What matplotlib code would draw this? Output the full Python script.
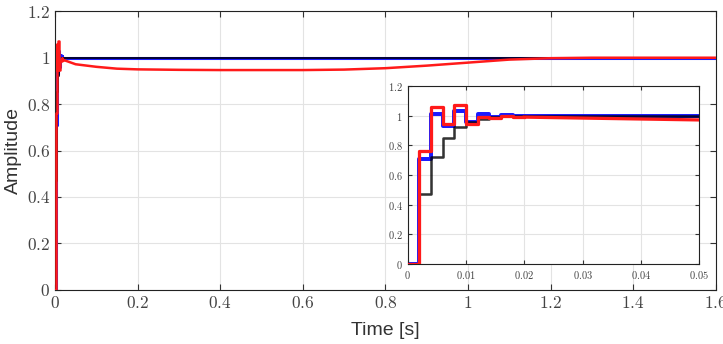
import numpy as np
import matplotlib
matplotlib.use('Agg')
import matplotlib.pyplot as plt
from matplotlib.ticker import FuncFormatter

plt.rcParams['mathtext.fontset'] = 'cm'
plt.rcParams['font.family'] = ['Liberation Sans', 'DejaVu Sans']

# sampled step responses (sample time 2 ms)
t_step = [0.0, 0.002, 0.004, 0.006, 0.008, 0.010, 0.012, 0.014, 0.016, 0.018, 0.020]
y_black = [0.0, 0.47, 0.72, 0.85, 0.92, 0.96, 0.98, 0.99, 1.0, 1.0, 1.0]
y_blue = [0.0, 0.71, 1.01, 0.93, 1.03, 0.96, 1.01, 0.99, 1.005, 1.0, 1.0]
y_red = [0.0, 0.76, 1.06, 0.945, 1.07, 0.945, 0.99, 0.985, 1.0, 0.99, 0.99]

# slow tail of each response
t_tail = [0.02, 0.05, 0.1, 0.15, 0.2, 0.3, 0.4, 0.5, 0.6, 0.7, 0.8, 0.9, 1.0, 1.1, 1.2, 1.3, 1.6]
tail_black = [1.0] * len(t_tail)
tail_blue = [1.0] * len(t_tail)
tail_red = [0.99, 0.971, 0.96, 0.952, 0.949, 0.947, 0.946, 0.946, 0.946, 0.948, 0.954,
            0.965, 0.978, 0.991, 0.997, 0.999, 0.999]

main_xticks = [0, 0.2, 0.4, 0.6, 0.8, 1, 1.2, 1.4, 1.6]
inset_xticks = [0, 0.01, 0.02, 0.03, 0.04, 0.05]
yticks = [0, 0.2, 0.4, 0.6, 0.8, 1, 1.2]

# drawing order: blue under black, red on top
series = [(y_blue, tail_blue, '#1a1aff', 2.2, 2, 1.0),
          (y_black, tail_black, '#000000', 1.4, 3, 0.8),
          (y_red, tail_red, '#ff1a1a', 1.8, 4, 1.0)]

fmt = FuncFormatter(lambda v, p: '$%g$' % round(v, 4))


def draw(ax, scale=1.0):
    for steps, tail, c, lw, z, a in series:
        ax.step(t_step, steps, where='post', color=c, lw=lw * scale, zorder=z, alpha=a)
        ax.plot(t_tail, tail, color=c, lw=lw * scale, zorder=z, alpha=a)
    ax.grid(True, color='#e3e3e3', lw=0.8)
    ax.set_axisbelow(True)
    ax.tick_params(direction='in', top=True, right=True, color='#333333')
    ax.xaxis.set_major_formatter(fmt)
    ax.yaxis.set_major_formatter(fmt)
    for s in ax.spines.values():
        s.set_color('#222222')


fig = plt.figure(figsize=(7.23, 3.44), dpi=100)
ax = fig.add_axes([0.076, 0.157, 0.914, 0.811])
draw(ax)
ax.set_xlim(0, 1.6)
ax.set_ylim(0, 1.2)
ax.set_xticks(main_xticks)
ax.set_yticks(yticks)
ax.tick_params(labelsize=12.5, length=4, colors='#333333', labelcolor='#444444')
ax.set_xlabel('Time [s]', fontsize=14, color='#333333', labelpad=8)
ax.set_ylabel('Amplitude', fontsize=14, color='#333333', labelpad=3)

axin = fig.add_axes([0.564, 0.233, 0.403, 0.517])
draw(axin, scale=1.3)
axin.set_xlim(0, 0.05)
axin.set_ylim(0, 1.2)
axin.set_xticks(inset_xticks)
axin.set_yticks(yticks)
axin.tick_params(labelsize=7.5, length=3, colors='#333333', labelcolor='#444444')

fig.savefig('out.png', dpi=100)
